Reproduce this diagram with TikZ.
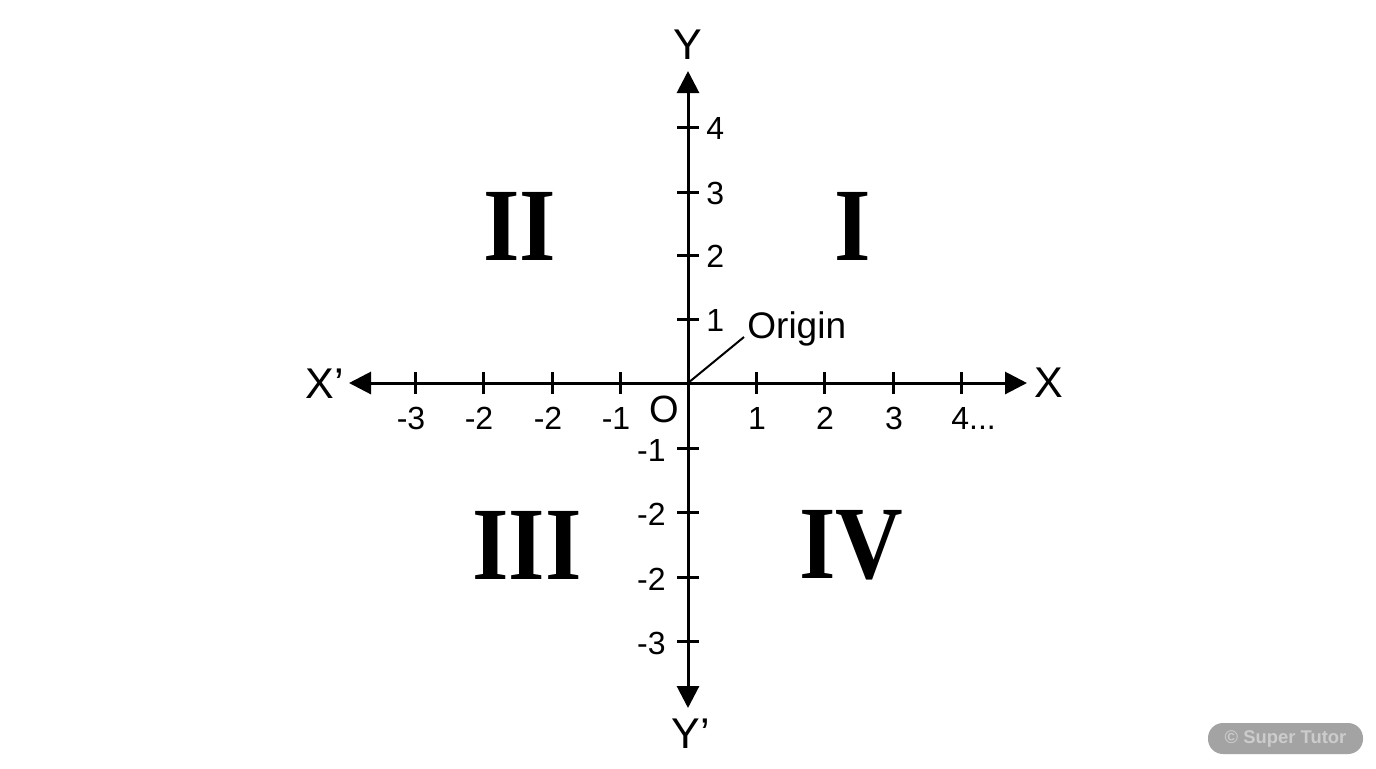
\documentclass[tikz,border=0pt]{standalone}
\usepackage{fontspec}
\setmainfont{Liberation Sans}
\newfontfamily\romanf{Liberation Serif}
\usetikzlibrary{arrows.meta}
\begin{document}
\begin{tikzpicture}[x=0.5pt,y=-0.5pt,
  axisline/.style={line width=1.5pt, {Triangle[length=11pt,width=11pt]}-{Triangle[length=11pt,width=11pt]}},
  tickmark/.style={line width=1.5pt},
  num/.style={font=\fontsize{16}{16}\selectfont, inner sep=0pt},
  axlabel/.style={font=\fontsize{21.5}{21.5}\selectfont, inner sep=0pt},
  quad/.style={font=\romanf\bfseries\fontsize{52}{52}\selectfont, inner sep=0pt, xscale=0.9},
  wmark/.style={fill=black!36, rounded corners=7.5pt, minimum width=77.5pt, minimum height=15.5pt, inner sep=0pt,
    text=black!20, font=\bfseries\fontsize{9.2}{9.2}\selectfont}]
\useasboundingbox (0,0) rectangle (1376,768);
\fill[white] (0,0) rectangle (1376,768);
% axes
\coordinate (O) at (688,383);
\coordinate (xl) at (349,383);
\coordinate (xr) at (1027,383);
\coordinate (yt) at (688,71);
\coordinate (yb) at (688,708);
\draw[axisline] (xl) -- (xr);
\draw[axisline] (yt) -- (yb);
% x ticks
\foreach \x/\l/\n in {415/-3/1, 483/-2/2, 552/-2/3, 620/-1/4} {
  \draw[tickmark] (\x,372) -- (\x,394);
  \node[num] (xn\n) at (\x-4,418) {\l};
}
\foreach \x/\l/\n in {756/1/5, 824/2/6, 893/3/7} {
  \draw[tickmark] (\x,372) -- (\x,394);
  \node[num] (xp\n) at (\x+1,418) {\l};
}
\draw[tickmark] (961,372) -- (961,394);
\node[num, anchor=west] (xp8) at (951,418) {4...};
% y ticks
\foreach \y/\l/\n in {127/4/1, 192/3/2, 255/2/3, 319/1/4} {
  \draw[tickmark] (677,\y) -- (699,\y);
  \node[num, anchor=west] (yp\n) at (706,\y+1) {\l};
}
\foreach \y/\l/\n in {448/-1/1, 512/-2/2, 577/-2/3, 641/-3/4} {
  \draw[tickmark] (677,\y) -- (699,\y);
  \node[num, anchor=east] (yn\n) at (666,\y+2) {\l};
}
% axis labels
\node[axlabel, anchor=east] (Xm) at (344,384) {X’};
\node[axlabel] (Xp) at (1049,383) {X};
\node[axlabel] (Yp) at (688,45) {Y};
\node[axlabel, anchor=west] (Ym) at (671,734) {Y’};
\node[inner sep=0pt, font=\fontsize{19}{19}\selectfont] (Olab) at (664,409) {O};
% origin leader
\node[inner sep=0pt, anchor=base west, font=\fontsize{18.5}{18.5}\selectfont] (orig) at (747,338) {Origin};
\coordinate (lead) at (744,337);
\draw[line width=1pt] (O) -- (lead);
% quadrants
\node[quad] (q2) at (520,226) {II};
\node[quad] (q1) at (853,226) {I};
\node[quad] (q3) at (527,545) {III};
\node[quad] (q4) at (851,545) {IV};
% watermark
\node[wmark] (wm) at (1285.5,738.5) {© Super Tutor};
\end{tikzpicture}
\end{document}
